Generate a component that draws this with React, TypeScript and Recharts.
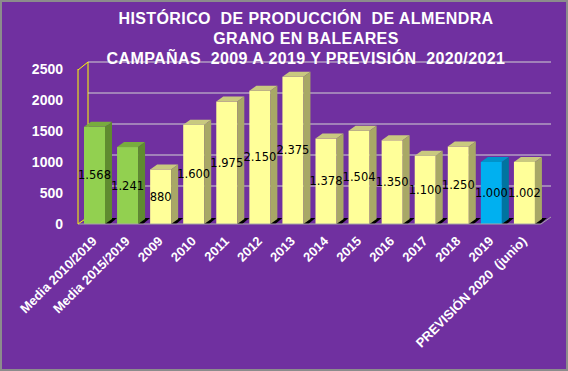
import React from 'react';
import { BarChart, Bar, XAxis, YAxis, CartesianGrid, LabelList } from 'recharts';

const categorias = [
  'Media 2010/2019',
  'Media 2015/2019',
  '2009',
  '2010',
  '2011',
  '2012',
  '2013',
  '2014',
  '2015',
  '2016',
  '2017',
  '2018',
  '2019',
  'PREVISIÓN 2020  (junio)',
];
const produccion = [1568, 1241, 880, 1600, 1975, 2150, 2375, 1378, 1504, 1350, 1100, 1250, 1000, 1002];
const grupos = [
  'media', 'media', 'campana', 'campana', 'campana', 'campana', 'campana',
  'campana', 'campana', 'campana', 'campana', 'campana', 'ultima', 'prevision',
];
const yTicks = [0, 500, 1000, 1500, 2000, 2500];

const titulo = [
  'HISTÓRICO  DE PRODUCCIÓN  DE ALMENDRA',
  'GRANO EN BALEARES',
  'CAMPAÑAS  2009 A 2019 Y PREVISIÓN  2020/2021',
];

const colores: Record<string, { front: string; side: string; top: string }> = {
  media: { front: '#92D050', side: '#5F8B2F', top: '#78AC3E' },
  campana: { front: '#FFFF99', side: '#A8A866', top: '#C9C97F' },
  ultima: { front: '#00B0F0', side: '#0074A0', top: '#0093CA' },
  prevision: { front: '#FFFF99', side: '#A8A866', top: '#C9C97F' },
};

const data = categorias.map((name, i) => ({ name, value: produccion[i], grupo: grupos[i] }));

// plot geometry (front plane) and 3D depth
const LEFT = 78;
const TOP = 69;
const BOTTOM = 224;
const RIGHT = 541;
const WALL_DX = 10;
const WALL_DY = 7;
const BAR_DX = 7;
const BAR_DY = 5;

const fmt = (v: number) => String(v).replace(/\B(?=(\d{3})+(?!\d))/g, '.');

function Bar3D(props: any) {
  const { x, y, width: w, height: h, payload } = props;
  const c = colores[payload.grupo];
  const base = y + h;
  return (
    <g>
      <polygon
        points={`${x + w - 1},${base} ${x + w + BAR_DX},${base - BAR_DY - 1} ${x + w + BAR_DX + 5},${base - BAR_DY - 1} ${x + w + 5},${base}`}
        fill="#000"
      />
      <rect x={x} y={y} width={w} height={h} fill={c.front} />
      <polygon
        points={`${x},${y} ${x + BAR_DX},${y - BAR_DY} ${x + w + BAR_DX},${y - BAR_DY} ${x + w},${y}`}
        fill={c.top}
      />
      <polygon
        points={`${x + w},${y} ${x + w + BAR_DX},${y - BAR_DY} ${x + w + BAR_DX},${base - BAR_DY} ${x + w},${base}`}
        fill={c.side}
      />
    </g>
  );
}

function gridLine(props: any) {
  const { x1, x2, y1, index } = props;
  if (Math.abs(y1 - BOTTOM) < 1) return <g key={`g-${index}`} />;
  return (
    <line
      key={`g-${index}`}
      x1={x1 + WALL_DX}
      y1={y1 - WALL_DY}
      x2={x2 + WALL_DX}
      y2={y1 - WALL_DY}
      stroke="#D2D2D2"
      strokeWidth={1}
    />
  );
}

function XTick(props: any) {
  const { x, y, payload } = props;
  const ax = x + 3;
  const ay = y + 16;
  return (
    <text
      x={ax}
      y={ay}
      transform={`rotate(-45, ${ax}, ${ay})`}
      textAnchor="end"
      fill="#FFFFFF"
      fontSize={13}
      fontWeight="bold"
      fontFamily="'Liberation Sans', Arial, sans-serif"
      style={{ whiteSpace: 'pre' }}
    >
      {payload.value}
    </text>
  );
}

function BarLabel(props: any) {
  const vb = props.viewBox || props;
  return (
    <text
      x={vb.x + vb.width / 2}
      y={vb.y + vb.height / 2}
      textAnchor="middle"
      dominantBaseline="central"
      fill="#000"
      fontSize={11.5}
      fontFamily="'DejaVu Sans', sans-serif"
    >
      {fmt(Number(props.value))}
    </text>
  );
}

export default function App() {
  return (
    <div
      style={{
        position: 'relative',
        width: 568,
        height: 371,
        background: '#7030A0',
        boxShadow: 'inset 0 0 0 2px #8C8C8C',
        overflow: 'hidden',
      }}
    >
      <style>{'body{margin:0}'}</style>
      <svg width={568} height={371} style={{ position: 'absolute', left: 0, top: 0 }}>
        <line x1={LEFT + WALL_DX} y1={TOP - WALL_DY} x2={LEFT + WALL_DX} y2={BOTTOM - WALL_DY} stroke="#FFFF00" />
        <line x1={LEFT} y1={TOP + 1} x2={LEFT + WALL_DX} y2={TOP - WALL_DY} stroke="#FFFF00" />
        <line x1={LEFT} y1={BOTTOM} x2={LEFT + WALL_DX} y2={BOTTOM - WALL_DY} stroke="#FFFF00" />
        <line x1={RIGHT} y1={BOTTOM} x2={RIGHT + WALL_DX} y2={BOTTOM - WALL_DY} stroke="#A6A6A6" />
      </svg>
      <div
        style={{
          position: 'absolute',
          left: 56,
          top: 9,
          width: 500,
          textAlign: 'center',
          color: '#FFFFFF',
          fontFamily: "'Liberation Sans', Arial, sans-serif",
          fontWeight: 'bold',
          fontSize: 16,
          lineHeight: '20px',
          letterSpacing: '0.4px',
          whiteSpace: 'pre',
          zIndex: 2,
        }}
      >
        {titulo.map((t) => (
          <div key={t}>{t}</div>
        ))}
      </div>
      <div style={{ position: 'absolute', left: 0, top: 0 }}>
        <BarChart
          width={568}
          height={371}
          data={data}
          margin={{ top: TOP, right: 568 - RIGHT, bottom: 0, left: 0 }}
          barSize={21}
        >
          <CartesianGrid horizontal={gridLine} vertical={false} />
          <XAxis
            dataKey="name"
            interval={0}
            height={371 - BOTTOM}
            tickLine={false}
            tickSize={0}
            axisLine={{ stroke: '#A6A6A6' }}
            tick={<XTick />}
          />
          <YAxis
            domain={[0, 2500]}
            ticks={yTicks}
            width={LEFT}
            tickLine={false}
            tickSize={0}
            tickMargin={15}
            axisLine={{ stroke: '#FFFF00' }}
            tick={{ fill: '#FFFFFF', fontSize: 14, fontWeight: 'bold', fontFamily: "'Liberation Sans', Arial, sans-serif" }}
          />
          <Bar dataKey="value" isAnimationActive={false} shape={<Bar3D />}>
            <LabelList dataKey="value" content={<BarLabel />} />
          </Bar>
        </BarChart>
      </div>
    </div>
  );
}
